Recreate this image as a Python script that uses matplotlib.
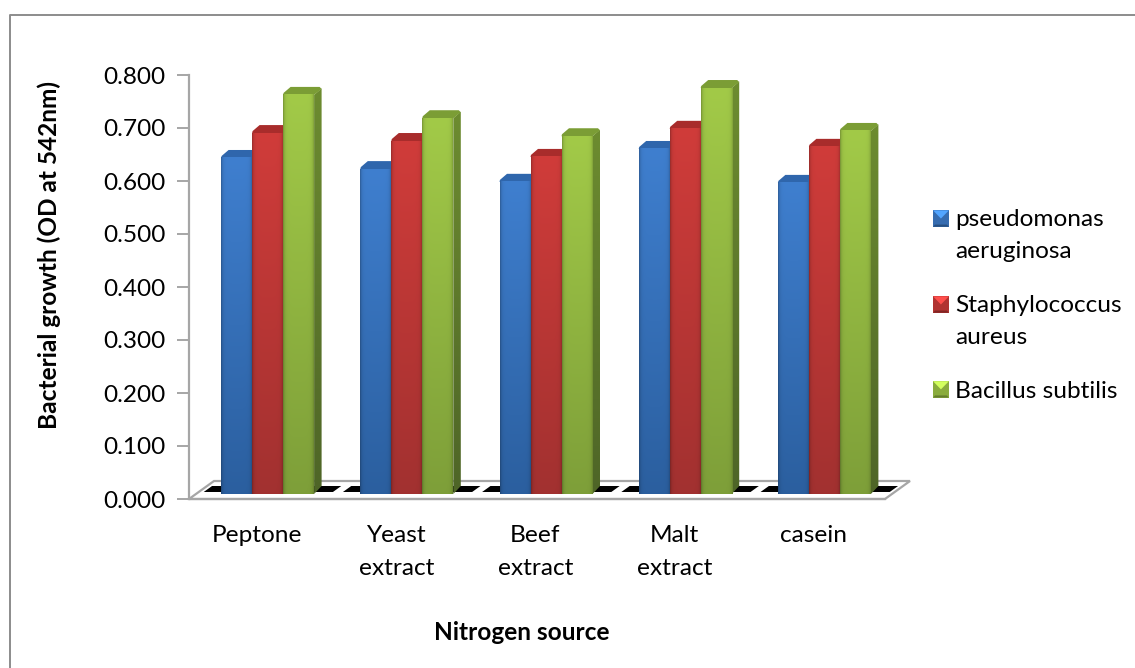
import numpy as np
import matplotlib
matplotlib.use("Agg")
import matplotlib.pyplot as plt
from matplotlib.colors import to_rgb
from matplotlib.legend_handler import HandlerPatch
from matplotlib.patches import Patch, Polygon, Rectangle

plt.rcParams['font.family'] = ['Lato', 'DejaVu Sans']

# data
sources = ["Peptone", "Yeast\nextract", "Beef\nextract", "Malt\nextract", "casein"]
pseudomonas = [0.634, 0.613, 0.589, 0.651, 0.587]
staph = [0.681, 0.666, 0.636, 0.689, 0.655]
bacillus = [0.753, 0.709, 0.675, 0.766, 0.685]
series_names = ["pseudomonas\naeruginosa", "Staphylococcus\naureus", "Bacillus subtilis"]
y_ticks = [0, 0.1, 0.2, 0.3, 0.4, 0.5, 0.6, 0.7, 0.8]

# colours: face top, face bottom, side top, side bottom, cap
blue = ["#3f7fcf", "#2b5f9f", "#2a5a94", "#1f4675", "#2f66ac"]
red = ["#d03c3a", "#a23130", "#8f2a29", "#6f2120", "#a82c2b"]
green = ["#a2ca48", "#7e9f39", "#6d8c30", "#4e6527", "#7b9d35"]

FONT = 17.6
W, H = 1135, 668
fig = plt.figure(figsize=(W / 100, H / 100), dpi=100)
L, R, T, B = 189, 885, 75, 499
ax = fig.add_axes([L / W, 1 - B / H, (R - L) / W, (B - T) / H])
ax.set_xlim(-0.5, 4.5)
ax.set_ylim(0, 0.8)
px = 5 / (R - L)   # one pixel in x data units
py = 0.8 / (B - T)  # one pixel in y data units

GRAY = "#a6a6a6"
base = 5 * py
bar_w = 31 * px
depth_x = 7.5 * px
depth_y = 8 * py
group_shift = 9 * px


def grad_face(top, bottom, bevel=True):
    c1, c2 = np.array(to_rgb(top)), np.array(to_rgb(bottom))
    t = np.linspace(0, 1, 120)[:, None, None]
    img = np.ones((120, 31, 3)) * (c1 * (1 - t) + c2 * t)
    if bevel:
        d = np.arange(31)
        edge = 1 - 0.22 * np.exp(-d / 1.5) - 0.16 * np.exp(-(30 - d) / 1.5)
        img = img * edge[None, :, None]
    return np.clip(img, 0, 1)


# floor of the 3d box
floor_back_x = 25 * px
floor_back_y = 18 * py
ax.add_patch(Polygon([(-0.5, 0), (4.5, 0), (4.5 + floor_back_x, floor_back_y),
                      (-0.5 + floor_back_x, floor_back_y)], closed=True, fc="white",
                     ec=GRAY, lw=1.6, clip_on=False, zorder=1))

# black dashes on the floor, broken at each category boundary
y1, y2 = 7 * py, 13 * py
gap = 5 * px
for i in range(5):
    left = i - 0.5
    right = i + 0.5
    ax.add_patch(Polygon([(left + y1 / floor_back_y * floor_back_x + gap, y1),
                          (right + y1 / floor_back_y * floor_back_x - gap, y1),
                          (right + y2 / floor_back_y * floor_back_x - gap, y2),
                          (left + y2 / floor_back_y * floor_back_x + gap, y2)],
                         closed=True, fc="black", ec="none", clip_on=False, zorder=2))

# bars
all_series = [pseudomonas, staph, bacillus]
all_colors = [blue, red, green]
x = np.arange(len(sources))
for s, (vals, cols) in enumerate(zip(all_series, all_colors)):
    offset = (s - 1) * bar_w + group_shift
    bars = ax.bar(x + offset, vals, width=bar_w, bottom=base, color=cols[1], lw=0, zorder=3 + s)
    for bar in bars:
        x0 = bar.get_x()
        x1 = x0 + bar_w
        top = base + bar.get_height()
        z = 3 + s
        # side face
        side = Polygon([(x1, base), (x1 + depth_x, base + depth_y), (x1 + depth_x, top + depth_y - 1.5 * py),
                        (x1, top)], closed=True, fc="none", ec="none", zorder=z)
        ax.add_patch(side)
        im = ax.imshow(grad_face(cols[2], cols[3], bevel=False), extent=[x1, x1 + depth_x, base, top + depth_y],
                       aspect="auto", zorder=z, interpolation="bilinear", clip_on=True)
        im.set_clip_path(side)
        # top cap with cut corners
        ax.add_patch(Polygon([(x0, top), (x0 + 0.5 * px, top + 2 * py), (x0 + depth_x, top + depth_y),
                              (x1 + depth_x - 2 * px, top + depth_y), (x1 + depth_x, top + depth_y - 2 * py),
                              (x1, top)], closed=True, fc=cols[4], ec="none", zorder=z, clip_on=False))
        # front face
        ax.imshow(grad_face(cols[0], cols[1]), extent=[x0, x1, base, top], aspect="auto",
                  zorder=z + 0.1, interpolation="bilinear")
ax.set_xlim(-0.5, 4.5)
ax.set_ylim(0, 0.8)

# axes
for name in ["top", "right"]:
    ax.spines[name].set_visible(False)
for name in ["left", "bottom"]:
    ax.spines[name].set_color(GRAY)
    ax.spines[name].set_linewidth(1.6)
ax.patch.set_visible(False)
ax.set_yticks(y_ticks)
ax.set_yticklabels(["%.3f" % v for v in y_ticks])
ax.set_xticks(x - 1.5 * px)
ax.set_xticklabels(sources, linespacing=1.66)
ax.tick_params(axis="y", length=9, width=1.4, color=GRAY, labelsize=FONT, pad=8, labelcolor="black")
ax.tick_params(axis="x", length=0, labelsize=FONT, pad=19, labelcolor="black")
ax.set_xlabel("Nitrogen source", fontweight="bold", fontsize=FONT)
ax.xaxis.set_label_coords((522 - L) / (R - L), -(633 - B) / (B - T), transform=ax.transAxes)
ax.xaxis.label.set_va("center")
ax.set_ylabel("Bacterial growth (OD at 542nm)", fontweight="bold", fontsize=FONT)
ax.yaxis.set_label_coords((49 - L) / (R - L), (B - 255) / (B - T), transform=ax.transAxes)
ax.yaxis.label.set_va("center")

LINE_PT = 17 * 0.72  # lift of a swatch on a two line legend entry, in points


# legend swatches with pyramid shading, level with the first line of the label
class BevelHandler(HandlerPatch):
    def create_artists(self, legend, orig_handle, xdescent, ydescent, width, height, fontsize, trans):
        c = np.array(to_rgb(orig_handle.get_facecolor()))
        x0, y0 = -xdescent, -ydescent + orig_handle.get_label().count("\n") * LINE_PT
        x1, y1 = x0 + width, y0 + height
        xm, ym = (x0 + x1) / 2, (y0 + y1) / 2
        light = np.clip(c * 1.3, 0, 1)
        dark = c * 0.62
        parts = [Rectangle((x0, y0), width, height, fc=c * 0.85, ec="none"),
                 Polygon([(x0, y1), (x1, y1), (xm, ym)], fc=light, ec="none"),
                 Polygon([(x0, y0), (x1, y0), (x1 - 1.5, y0 + 1.5), (x0 + 1.5, y0 + 1.5)], fc=dark, ec="none")]
        for p in parts:
            p.set_transform(trans)
        return parts


handles = [Patch(fc=cols[0], label=name) for cols, name in zip(all_colors, series_names)]
leg = fig.legend(handles, series_names, handler_map={Patch: BevelHandler()},
                 loc="upper left", bbox_to_anchor=(933 / W, 1 - 209 / H), frameon=False,
                 fontsize=FONT, handlelength=0.65, handleheight=0.65, handletextpad=0.24,
                 labelspacing=1.34, borderpad=0, borderaxespad=0)
for t in leg.get_texts():
    t.set_linespacing(1.66)

# chart border, left and top edges only
fig.add_artist(plt.Line2D([9.5 / W, 9.5 / W, 1], [0, 1 - 15 / H, 1 - 15 / H], color="#8c8c8c", lw=1.4))

fig.savefig("out.png", dpi=100)
